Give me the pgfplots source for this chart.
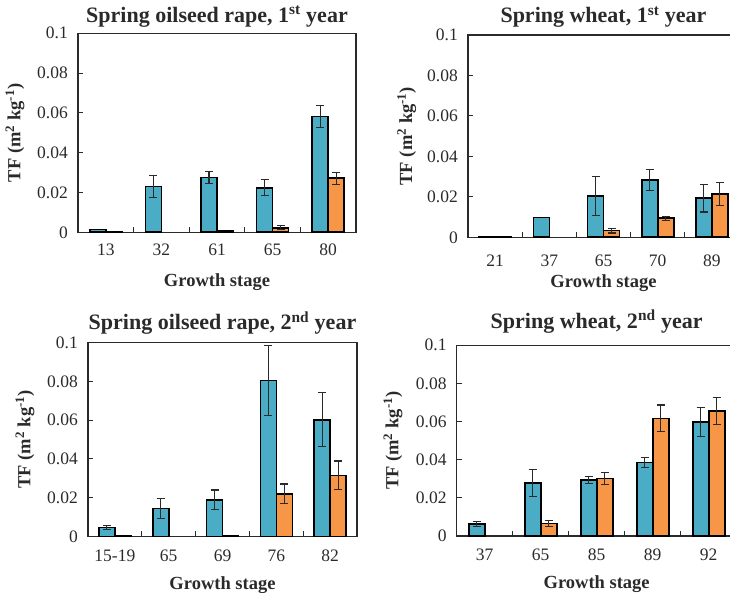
\documentclass[border=0pt]{standalone}
\usepackage{fontspec}
\setmainfont{Liberation Serif}
\usepackage{pgfplots}
\pgfplotsset{compat=1.18}
\definecolor{cblue}{HTML}{4BACC6}
\definecolor{corange}{HTML}{F79646}
\definecolor{axgray}{HTML}{2A2A2A}
\pgfplotsset{
  panel/.style={
    scale only axis,
    ybar=0pt, bar width=16pt,
    xmin=-0.5, xmax=4.5, ymin=0, ymax=0.1,
    xtick={0,1,2,3,4},
    minor xtick={0.5,1.5,2.5,3.5},
    major x tick style={draw=none},
    minor tick length=5pt,
    major tick length=5pt,
    tick align=inside,
    xtick pos=left, ytick pos=left,
    ytick={0,0.02,0.04,0.06,0.08,0.1},
    yticklabels={0,0.02,0.04,0.06,0.08,0.1},
    tick style={draw=axgray, line width=1.1pt},
    axis line style={draw=axgray, line width=1.3pt},
    ticklabel style={font=\fontsize{17.5}{20}\selectfont, text=axgray},
    yticklabel style={inner sep=0pt, anchor=east, xshift=-10pt},
    xticklabel style={inner sep=0pt, anchor=base},
    xlabel={Growth stage},
    ylabel={TF (m\textsuperscript{2} kg\textsuperscript{-1})},
    label style={font=\fontsize{18.5}{20}\selectfont\bfseries, text=axgray, inner sep=0pt},
    title style={font=\fontsize{22}{24}\selectfont\bfseries, text=axgray, inner sep=0pt, anchor=base},
    ylabel style={anchor=center},
    xlabel style={anchor=base},
  },
  bblue/.style={fill=cblue, draw=black, line width=1.6pt,
    error bars/.cd, y dir=both, y explicit,
    error bar style={line width=1.1pt, draw=axgray},
    error mark options={rotate=90, mark size=4pt, line width=1.1pt, draw=axgray}},
  borange/.style={fill=corange, draw=black, line width=1.6pt,
    error bars/.cd, y dir=both, y explicit,
    error bar style={line width=1.1pt, draw=axgray},
    error mark options={rotate=90, mark size=4pt, line width=1.1pt, draw=axgray}},
}
\begin{document}
\begin{tikzpicture}[x=1pt,y=1pt]
% Panel 1
\begin{axis}[panel, at={(78pt,361.7pt)}, anchor=south west, width=278pt, height=199pt,
  xticklabels={13,32,61,65,80},
  xticklabel style={yshift=-23.5pt},
  title={Spring oilseed rape, 1\textsuperscript{st} year},
  title style={at={(axis description cs:0.5,1.025)}},
  xlabel style={at={(axis description cs:0.5,-0.273)}},
  ylabel style={at={(axis description cs:-0.227,0.5)}}]
\addplot[bblue] coordinates {(0,0.0015) (1,0.023) +- (0,0.0055) (2,0.0275) +- (0,0.003) (3,0.0224) +- (0,0.004) (4,0.0581) +- (0,0.0055)};
\addplot[borange] coordinates {(0,0.0005) (2,0.001) (3,0.0022) +- (0,0.001) (4,0.0272) +- (0,0.003)};
\end{axis}
% Panel 2
\begin{axis}[panel, at={(468pt,356.7pt)}, anchor=south west, width=271pt, height=202.3pt,
  xticklabels={21,37,65,70,89},
  xticklabel style={yshift=-29pt},
  title={Spring wheat, 1\textsuperscript{st} year},
  title style={at={(axis description cs:0.5,1.03)}},
  xlabel style={at={(axis description cs:0.5,-0.249)}},
  ylabel style={at={(axis description cs:-0.226,0.5)}}]
\addplot[bblue] coordinates {(0,0.0003) (1,0.0097) (2,0.0204) +- (0,0.0095) (3,0.0283) +- (0,0.0053) (4,0.0193) +- (0,0.0068)};
\addplot[borange] coordinates {(0,0.0002) (2,0.0033) +- (0,0.0012) (3,0.0094) +- (0,0.001) (4,0.0213) +- (0,0.0057)};
\end{axis}
% Panel 3
\begin{axis}[panel, at={(88pt,57.7pt)}, anchor=south west, width=269pt, height=193.6pt,
  xticklabels={15-19,65,69,76,82},
  xticklabel style={yshift=-25pt},
  title={Spring oilseed rape, 2\textsuperscript{nd} year},
  title style={at={(axis description cs:0.5,1.036)}},
  xlabel style={at={(axis description cs:0.5,-0.276)}},
  ylabel style={at={(axis description cs:-0.234,0.5)}}]
\addplot[bblue] coordinates {(0,0.0045) +- (0,0.001) (1,0.0143) +- (0,0.0053) (2,0.0189) +- (0,0.005) (3,0.0805) +- (0,0.018) (4,0.0602) +- (0,0.014)};
\addplot[borange] coordinates {(0,0.0005) (2,0.0005) (3,0.022) +- (0,0.005) (4,0.0315) +- (0,0.0074)};
\end{axis}
% Panel 4
\begin{axis}[panel, at={(456.7pt,58pt)}, anchor=south west, width=280pt, height=190.7pt,
  xticklabels={37,65,85,89,92},
  xticklabel style={yshift=-24.5pt},
  title={Spring wheat, 2\textsuperscript{nd} year},
  title style={at={(axis description cs:0.5,1.059)}},
  xlabel style={at={(axis description cs:0.5,-0.276)}},
  ylabel style={at={(axis description cs:-0.2275,0.5)}}]
\addplot[bblue] coordinates {(0,0.0063) +- (0,0.0015) (1,0.0278) +- (0,0.007) (2,0.0294) +- (0,0.0017) (3,0.0385) +- (0,0.0025) (4,0.0598) +- (0,0.0074)};
\addplot[borange] coordinates {(1,0.0065) +- (0,0.0017) (2,0.0301) +- (0,0.0033) (3,0.0617) +- (0,0.007) (4,0.0654) +- (0,0.007)};
\end{axis}
\pgfresetboundingbox
\useasboundingbox (0pt,0pt) rectangle (730pt,594pt);
\end{tikzpicture}
\end{document}
